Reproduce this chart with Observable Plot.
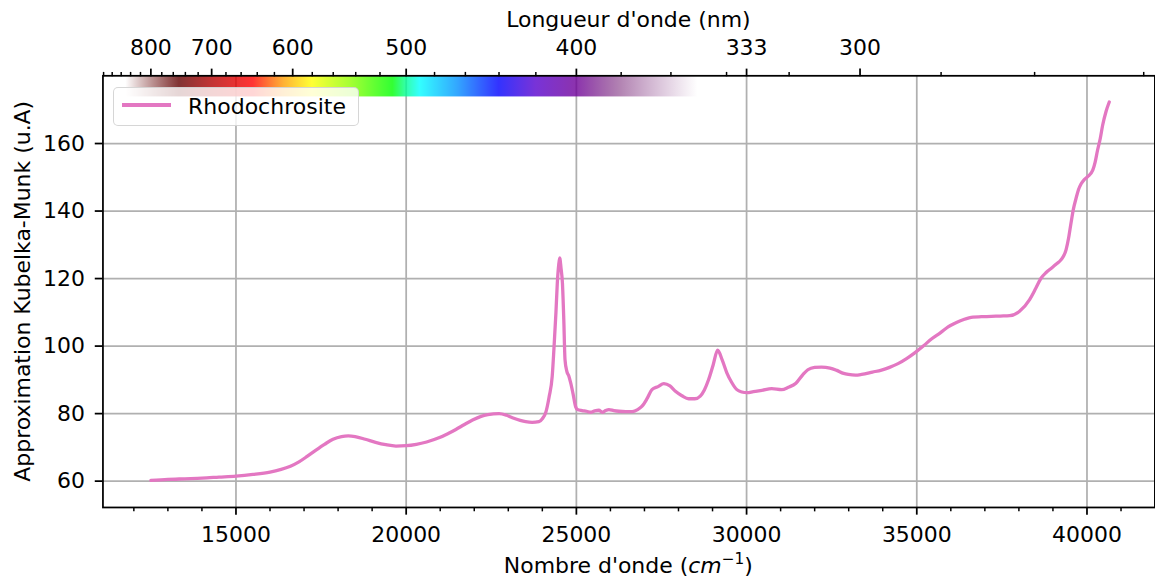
<!DOCTYPE html>
<html><head><meta charset="utf-8">
<script src="https://cdn.jsdelivr.net/npm/d3@7"></script>
<script src="https://cdn.jsdelivr.net/npm/@observablehq/plot@0.6"></script>
<style>
html,body{margin:0;padding:0;background:#fff;overflow:hidden;}
#wrap{position:relative;width:1155px;height:581px;overflow:hidden;font-family:"DejaVu Sans",sans-serif;}
#wrap svg{position:absolute;left:0;top:0;}
.lg-box{position:absolute;left:113px;top:87px;width:246px;height:39px;box-sizing:border-box;background:rgba(255,255,255,0.8);border:1.6px solid rgba(204,204,204,0.8);border-radius:5px;}
.lg-line{position:absolute;left:122px;top:103.4px;width:49px;height:3.3px;background:#e377c2;}
.lg-text{position:absolute;left:188px;top:95.7px;font-size:22px;line-height:22px;color:#000;white-space:nowrap;}
</style>
</head><body>
<div id="wrap"></div>
<script>
// ---- data ----
const wavenumber = [12500,13000,13500,14000,14500,15000,15500,16000,16300,16600,16850,17100,17350,17600,17850,18100,18300,18500,18800,19100,19400,19700,20000,20300,20600,20980,21250,21460,21700,21950,22200,22400,22730,22950,23120,23350,23510,23700,23900,24000,24100,24200,24290,24340,24400,24440,24480,24510,24550,24590,24630,24666,24720,24780,24833,24900,24980,25030,25170,25300,25420,25540,25660,25760,25860,25955,26100,26250,26450,26640,26800,26930,27080,27220,27400,27570,27750,27910,28100,28300,28480,28640,28760,28885,29020,29150,29280,29420,29560,29715,29860,30010,30200,30450,30740,31030,31230,31450,31650,31800,32000,32200,32450,32650,32850,32990,33200,33380,33700,33963,34200,34450,34700,34940,35200,35430,35700,35920,36150,36360,36650,36900,37190,37450,37730,38020,38310,38500,38650,38800,38945,39100,39240,39385,39460,39530,39600,39680,39750,39825,39920,40020,40170,40240,40310,40390,40460,40560,40655];
const kubelkaMunk = [60.2,60.5,60.7,60.9,61.2,61.5,62.0,62.7,63.4,64.4,65.7,67.4,69.2,70.9,72.4,73.2,73.4,73.2,72.4,71.5,70.8,70.4,70.5,70.9,71.6,72.9,74.2,75.3,76.7,78.1,79.2,79.7,80.0,79.5,78.8,78.0,77.6,77.4,77.6,78.5,80.3,85.0,91.0,99.0,110.0,118.7,124.0,126.1,123.0,118.7,108.0,96.0,92.5,91.1,89.1,86.0,82.0,81.2,80.9,80.7,80.4,80.8,81.0,80.4,80.9,81.2,80.9,80.7,80.6,80.6,81.2,82.2,84.5,87.1,88.0,88.9,88.2,86.6,85.3,84.4,84.4,85.2,87.0,90.1,94.5,98.8,96.0,92.1,89.3,87.1,86.4,86.2,86.5,86.9,87.4,87.1,87.8,89.0,91.5,93.0,93.7,93.8,93.5,92.8,91.9,91.6,91.4,91.6,92.3,92.9,93.7,94.8,96.3,98.0,100.1,102.1,104.0,105.7,106.9,107.8,108.6,108.7,108.8,108.9,109.0,110.3,113.7,117.2,120.1,121.8,123.0,124.3,125.6,128.5,132.0,136.4,140.5,143.8,146.3,148.0,149.3,150.2,152.1,154.5,158.0,161.5,165.4,169.5,172.3];

const seriesName = "Rhodochrosite";

// ticks / labels
const xTicks = [15000,20000,25000,30000,35000,40000];
const xMinorTicks = [12000,13000,14000,16000,17000,18000,19000,21000,22000,23000,24000,26000,27000,28000,29000,31000,32000,33000,34000,36000,37000,38000,39000,41000];
const yTicks = [60,80,100,120,140,160];
const topMajorNm = [800,700,600,500,400,333.333,300];
const topMinorNm = [900,880,860,840,820,780,760,740,720,680,660,640,620,580,560,540,520,480,460,440,420,380,360,340,320,280,260,240];

const xDomain = [11092,41995];
const yDomain = [52.2,180.06];

// visible spectrum band (wavelength colour stops)
const specNm =    [340,380,400,420,440,465,490,500,510,545,580,610,645,700,750,860];
const specColor = ["#610061","#610061","#6f009a","#5600ce","#0000ff","#0092ff","#00ffff","#00ff92","#00ff00","#92ff00","#ffff00","#ff9b00","#ff0000","#b10000","#610000","#610000"];
const specAlphaNm = [340,350,400,750,850,860];
const specAlpha =   [0,0,0.8,0.8,0,0];
const specBandY = [173.8,180.06];

const data = wavenumber.map((w,i)=>({wn:w, km:kubelkaMunk[i]}));
const band = [{x1:1e7/d3.max(specNm), x2:1e7/d3.min(specNm), y1:specBandY[0], y2:specBandY[1]}];

const F = 22, TICK = 7.7, MINOR = 4.4, LW = 1.76;

const chart = Plot.plot({
  width: 1158, height: 581,
  marginLeft: 102.7, marginRight: 0.6, marginTop: 75.5, marginBottom: 72.7,
  style: {fontFamily: "DejaVu Sans, sans-serif", fontSize: "22px", color: "#000", background: "transparent", overflow: "visible"},
  x: {domain: xDomain, label: null},
  y: {domain: yDomain, label: null},
  marks: [
    Plot.gridY(yTicks, {stroke: "#b0b0b0", strokeOpacity: 1, strokeWidth: LW}),
    Plot.gridX(xTicks, {stroke: "#b0b0b0", strokeOpacity: 1, strokeWidth: LW}),
    Plot.rect(band, {x1: "x1", x2: "x2", y1: "y1", y2: "y2", fill: "url(#specGrad)"}),
    Plot.line(data, {x: "wn", y: "km", stroke: "#e377c2", strokeWidth: 3.3, curve: "monotone-x"}),
    Plot.frame({stroke: "#000", strokeWidth: LW}),
    Plot.axisX(xTicks, {anchor: "bottom", tickSize: TICK, tickPadding: 11, fontSize: F, strokeWidth: LW, tickFormat: d => String(d), label: null}),
    Plot.axisX(xMinorTicks, {anchor: "bottom", tickSize: MINOR, strokeWidth: LW*0.85, tickFormat: () => "", label: null}),
    Plot.axisY(yTicks, {anchor: "left", tickSize: TICK, tickPadding: 10.4, fontSize: F, strokeWidth: LW, tickFormat: d => String(d), label: null}),
    Plot.axisX(topMajorNm.map(n => 1e7/n), {anchor: "top", tickSize: TICK, tickPadding: 12.8, fontSize: F, strokeWidth: LW, tickFormat: d => String(Math.round(1e7/d)), label: null}),
    Plot.axisX(topMinorNm.map(n => 1e7/n), {anchor: "top", tickSize: MINOR, strokeWidth: LW*0.85, tickFormat: () => "", label: null})
  ]
});

// gradient for the spectrum band
const colorOf = d3.scaleLinear().domain(specNm).range(specColor).interpolate(d3.interpolateRgb).clamp(true);
const alphaOf = d3.scaleLinear().domain(specAlphaNm).range(specAlpha).clamp(true);
const wnLo = band[0].x1, wnHi = band[0].x2;
const svg = d3.select(chart);
const grad = svg.insert("defs", ":first-child").append("linearGradient")
  .attr("id", "specGrad").attr("x1", 0).attr("x2", 1).attr("y1", 0).attr("y2", 0);
for (let nm = d3.max(specNm); nm >= d3.min(specNm); nm -= 2) {
  const off = (1e7/nm - wnLo) / (wnHi - wnLo);
  grad.append("stop").attr("offset", Math.max(0, Math.min(1, off)))
    .attr("stop-color", colorOf(nm)).attr("stop-opacity", alphaOf(nm));
}

// axis titles
const T = svg.append("g").attr("font-family", "DejaVu Sans, sans-serif").attr("font-size", F).attr("fill", "#000");
T.append("text").attr("x", 630).attr("y", 27).attr("text-anchor", "middle").text("Longueur d'onde (nm)");
T.append("text").attr("transform", "translate(30,292) rotate(-90)").attr("text-anchor", "middle").text("Approximation Kubelka-Munk (u.A)");
const xl = T.append("text").attr("x", 630).attr("y", 574).attr("text-anchor", "middle");
xl.append("tspan").text("Nombre d'onde (");
xl.append("tspan").attr("font-style", "italic").text("cm");
xl.append("tspan").attr("font-size", 15.4).attr("dy", -9).text("\u22121");
xl.append("tspan").attr("dy", 9).text(")");

const wrap = document.getElementById("wrap");
wrap.appendChild(chart);
// legend
const lb = document.createElement("div"); lb.className = "lg-box"; wrap.appendChild(lb);
const ll = document.createElement("div"); ll.className = "lg-line"; wrap.appendChild(ll);
const lt = document.createElement("div"); lt.className = "lg-text"; lt.textContent = seriesName; wrap.appendChild(lt);
</script>
</body></html>
